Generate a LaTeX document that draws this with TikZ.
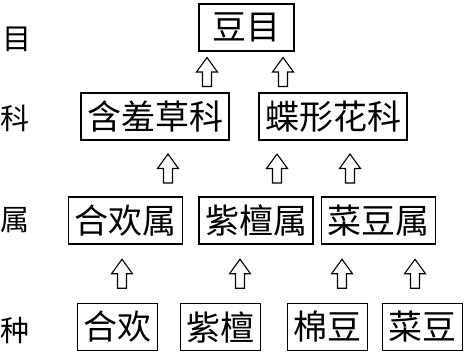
\documentclass[tikz,border=0pt]{standalone}
\usepackage{fontspec}
\newfontfamily\cjk{Noto Sans CJK SC}
\usetikzlibrary{calc,positioning}

\begin{document}
\begin{tikzpicture}[x=1pt,y=-1pt,
                    box/.style={draw,line width=1.2pt,font=\cjk\fontsize{34}{34}\selectfont,
                    minimum height=47pt,inner xsep=6pt,inner ysep=0pt},
                    rank/.style={font=\cjk\fontsize{29}{29}\selectfont,inner sep=0pt},
                    up/.style={line width=1.1pt,line join=miter,to path={
                      let \p1=(\tikztostart), \p2=(\tikztotarget),
                          \p3=($(\p1)!.5!(\p2)$) in
                      (\x1-4.5pt,\y3-14.5pt) -- (\x1-4.5pt,\y3) -- (\x1-10.5pt,\y3)
                      -- (\x1,\y3+14.5pt) -- (\x1+10.5pt,\y3) -- (\x1+4.5pt,\y3)
                      -- (\x1+4.5pt,\y3-14.5pt) -- cycle}}]

\useasboundingbox (0,0) rectangle (476,361);

% ranks
\node[rank] (rO) at (17,39) {目};
\node[rank] (rF) at (15,118) {科};
\node[rank] (rG) at (15,220) {属};
\node[rank] (rS) at (15,330) {种};

% taxa
\node[box,minimum width=95pt] (O) at (246.5,27.5) {豆目};
\node[box] (F1) at (155,116.5)  {含羞草科};
\node[box] (F2) at (333,116.5)  {蝶形花科};
\node[box] (G1) at (125.5,220.5) {合欢属};
\node[box] (G2) at (256,220.5)   {紫檀属};
\node[box] (G3) at (378.5,220.5) {菜豆属};
\node[box] (S1) at (117.5,327) {合欢};
\node[box] (S2) at (220.5,327) {紫檀};
\node[box] (S3) at (327.5,327) {棉豆};
\node[box] (S4) at (422.5,327) {菜豆};

\foreach \a/\b/\px in {F1/O/207, F2/O/283, G1/F1/168, G2/F2/277, G3/F2/350,
                       S1/G1/122, S2/G2/240, S3/G3/342, S4/G3/415}
  \draw[up] (\px,0 |- \a.north) to (\px,0 |- \b.south);

\end{tikzpicture}
\end{document}
